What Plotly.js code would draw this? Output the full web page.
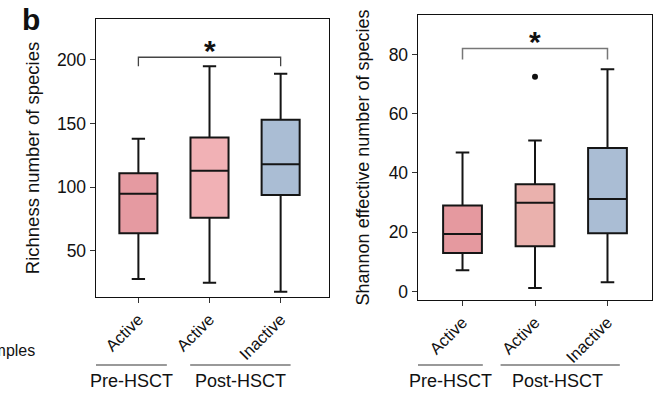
<!DOCTYPE html>
<html>
<head>
<meta charset="utf-8">
<script src="https://cdn.plot.ly/plotly-3.0.1.min.js"></script>
<style>html,body{margin:0;padding:0;background:#fff;}#chart{width:666px;height:397px;}</style>
</head>
<body>
<div id="chart"></div>
<script>
// ---- data ----
const positions = [0, 1, 2];
const statusLabels = ['Active', 'Active', 'Inactive'];
const groupLabels = ['Pre-HSCT', 'Post-HSCT'];
const richColors = ['#e59aa1', '#f1b1b5', '#aabdd4'];
const shanColors = ['#e5999f', '#eab1ad', '#aabdd4'];

// Richness (number of species)
const richLower = [28, 25, 18];
const richQ1 = [64, 76, 94];
const richMedian = [95, 113, 118];
const richQ3 = [111, 139, 153];
const richUpper = [138, 195, 189];
const richBracket = [195, 202, 202, 195];

// Shannon effective number of species
const shanLower = [7.2, 1.2, 3.1];
const shanQ1 = [13, 15.3, 19.7];
const shanMedian = [19.4, 30, 31.2];
const shanQ3 = [29, 36.2, 48.4];
const shanUpper = [46.9, 51, 75];
const shanOutlierX = [1];
const shanOutlierY = [72.5];
const shanBracket = [78.3, 82, 82, 78.3];

const bracketX = [0, 0, 2, 2];

// ---- traces ----
const traces = [];
function addBoxes(xa, ya, lo, q1, med, q3, up, colors) {
  for (let i = 0; i < positions.length; i++) {
    traces.push({
      type: 'box', xaxis: xa, yaxis: ya,
      x: [positions[i]], lowerfence: [lo[i]], q1: [q1[i]], median: [med[i]], q3: [q3[i]], upperfence: [up[i]],
      width: 0.535, whiskerwidth: 0.35, boxpoints: false,
      fillcolor: colors[i], line: {color: '#151515', width: 2},
      showlegend: false, hoverinfo: 'skip'
    });
  }
}
addBoxes('x', 'y', richLower, richQ1, richMedian, richQ3, richUpper, richColors);
addBoxes('x2', 'y2', shanLower, shanQ1, shanMedian, shanQ3, shanUpper, shanColors);

traces.push({type: 'scatter', mode: 'markers', xaxis: 'x2', yaxis: 'y2', x: shanOutlierX, y: shanOutlierY,
  marker: {color: '#111', size: 6}, showlegend: false, hoverinfo: 'skip'});
traces.push({type: 'scatter', mode: 'lines', xaxis: 'x', yaxis: 'y', x: bracketX, y: richBracket,
  line: {color: '#444', width: 1.3}, showlegend: false, hoverinfo: 'skip'});
traces.push({type: 'scatter', mode: 'lines', xaxis: 'x2', yaxis: 'y2', x: bracketX, y: shanBracket,
  line: {color: '#777', width: 1.5}, showlegend: false, hoverinfo: 'skip'});

const FONT = 'Liberation Sans, Arial, Helvetica, sans-serif';
const axisBase = {
  showline: true, mirror: true, linecolor: '#111', linewidth: 1.4,
  showgrid: false, zeroline: false, ticks: 'outside', ticklen: 5, tickwidth: 1, tickcolor: '#333',
  tickfont: {family: FONT, size: 17.5, color: '#111'}
};

const layout = {
  width: 666, height: 397,
  margin: {l: 0, r: 0, t: 0, b: 0},
  paper_bgcolor: '#fff', plot_bgcolor: '#fff',
  font: {family: FONT, color: '#111'},
  showlegend: false,
  xaxis: Object.assign({}, axisBase, {
    domain: [96 / 666, 329 / 666], range: [-0.596, 2.68],
    tickvals: positions, ticktext: statusLabels, tickangle: -45, anchor: 'y',
    tickfont: {family: FONT, size: 16.5, color: '#111'}
  }),
  yaxis: Object.assign({}, axisBase, {
    domain: [1 - 297 / 397, 1 - 19 / 397], range: [13.9, 232],
    tickvals: [50, 100, 150, 200], anchor: 'x',
    title: {text: 'Richness number of species', font: {family: FONT, size: 18.5, color: '#111'}, standoff: 12}
  }),
  xaxis2: Object.assign({}, axisBase, {
    domain: [418 / 666, 652 / 666], range: [-0.614, 2.614],
    tickvals: positions, ticktext: statusLabels, tickangle: -45, anchor: 'y2',
    tickfont: {family: FONT, size: 16.5, color: '#111'}
  }),
  yaxis2: Object.assign({}, axisBase, {
    domain: [1 - 300 / 397, 1 - 15 / 397], range: [-2.85, 93.3],
    tickvals: [0, 20, 40, 60, 80], anchor: 'x2',
    title: {text: 'Shannon effective number of species', font: {family: FONT, size: 18, color: '#111'}, standoff: 14}
  }),
  shapes: [
    {type: 'line', xref: 'x', yref: 'paper', x0: -0.596, x1: 0.4, y0: 1 - 365 / 397, y1: 1 - 365 / 397, line: {color: '#777', width: 1.5}},
    {type: 'line', xref: 'x', yref: 'paper', x0: 0.728, x1: 2.14, y0: 1 - 365 / 397, y1: 1 - 365 / 397, line: {color: '#777', width: 1.5}},
    {type: 'line', xref: 'x2', yref: 'paper', x0: -0.614, x1: 0.28, y0: 1 - 365 / 397, y1: 1 - 365 / 397, line: {color: '#777', width: 1.5}},
    {type: 'line', xref: 'x2', yref: 'paper', x0: 0.525, x1: 2.17, y0: 1 - 365 / 397, y1: 1 - 365 / 397, line: {color: '#777', width: 1.5}}
  ],
  annotations: [
    {text: '<b>b</b>', xref: 'paper', yref: 'paper', x: 20 / 666, y: 1 - 1 / 397, xanchor: 'left', yanchor: 'top', showarrow: false, font: {family: FONT, size: 30, color: '#111'}},
    {text: 'Samples', xref: 'paper', yref: 'paper', x: 37 / 666, y: 1 - 350 / 397, xanchor: 'right', yanchor: 'middle', showarrow: false, font: {family: FONT, size: 16, color: '#111'}},
    {text: groupLabels[0], xref: 'x', yref: 'paper', x: -0.095, y: 1 - 381 / 397, xanchor: 'center', yanchor: 'middle', showarrow: false, font: {family: FONT, size: 18, color: '#111'}},
    {text: groupLabels[1], xref: 'x', yref: 'paper', x: 1.43, y: 1 - 381 / 397, xanchor: 'center', yanchor: 'middle', showarrow: false, font: {family: FONT, size: 18, color: '#111'}},
    {text: groupLabels[0], xref: 'x2', yref: 'paper', x: -0.17, y: 1 - 381 / 397, xanchor: 'center', yanchor: 'middle', showarrow: false, font: {family: FONT, size: 18, color: '#111'}},
    {text: groupLabels[1], xref: 'x2', yref: 'paper', x: 1.31, y: 1 - 381 / 397, xanchor: 'center', yanchor: 'middle', showarrow: false, font: {family: FONT, size: 18, color: '#111'}},
    {text: '<b>*</b>', xref: 'x', yref: 'y', x: 1, y: richBracket[1], xanchor: 'center', yanchor: 'bottom', yshift: -12, showarrow: false, font: {family: FONT, size: 30, color: '#111'}},
    {text: '<b>*</b>', xref: 'x2', yref: 'y2', x: 1, y: shanBracket[1], xanchor: 'center', yanchor: 'bottom', yshift: -12, showarrow: false, font: {family: FONT, size: 30, color: '#111'}}
  ]
};

Plotly.newPlot('chart', traces, layout, {staticPlot: true, displayModeBar: false});
</script>
</body>
</html>
